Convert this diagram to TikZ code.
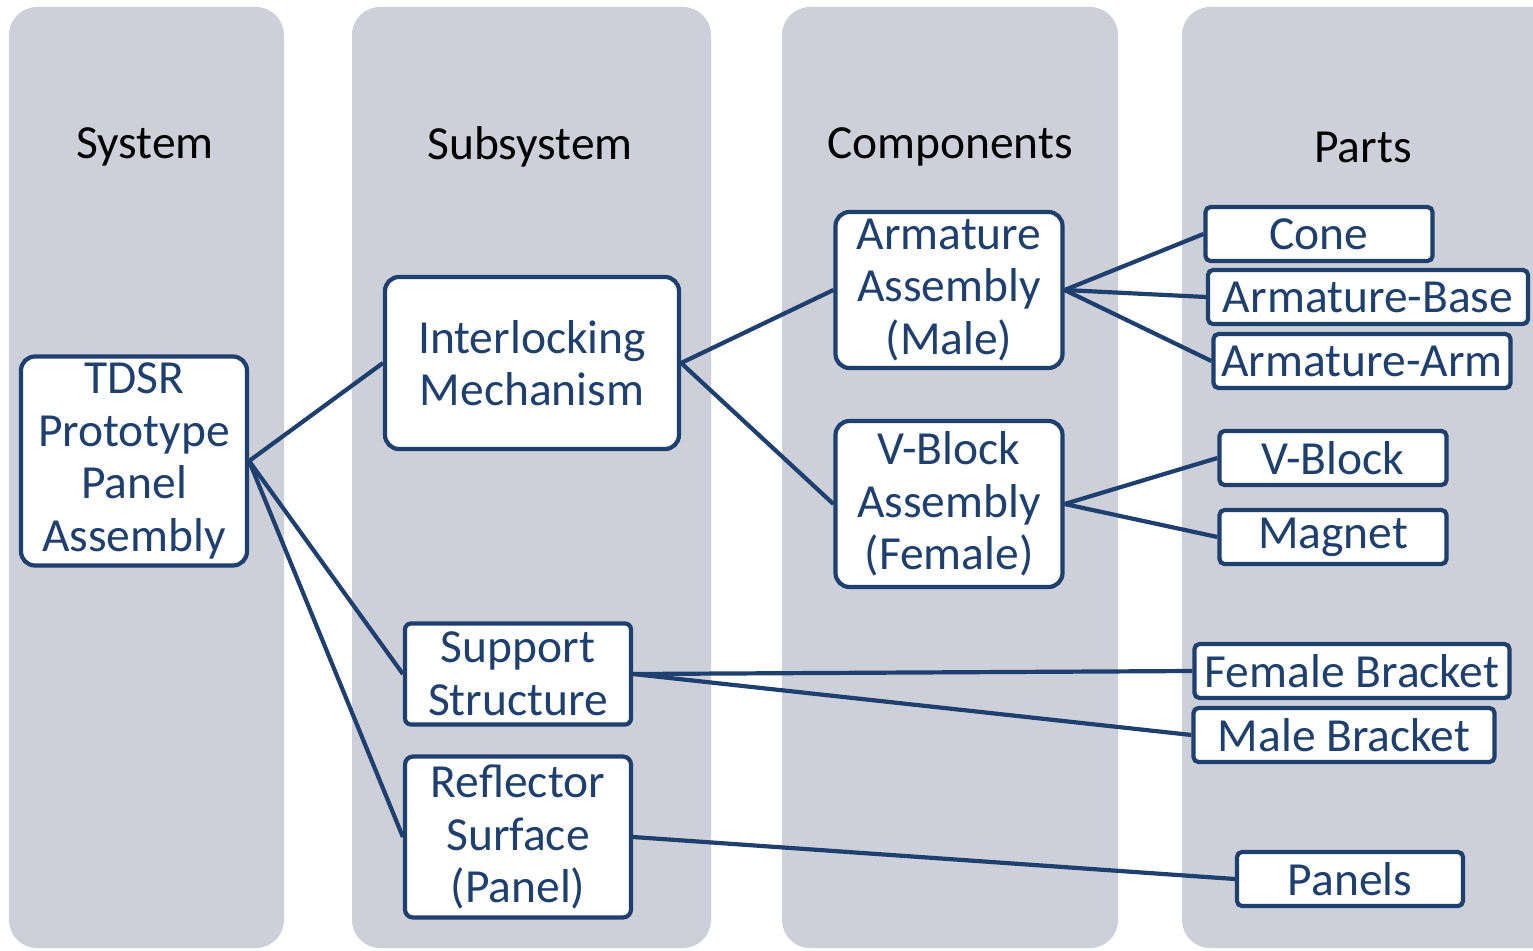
\documentclass[tikz,border=0pt]{standalone}
\usepackage{fontspec}
\setmainfont{Carlito}
\usetikzlibrary{positioning}

\definecolor{navy}{RGB}{31,63,110}
\definecolor{colgrey}{RGB}{205,208,217}

\begin{document}
\begin{tikzpicture}[
        x=1pt, y=-1pt,
        font=\fontsize{47.5}{52.5}\selectfont,
        column/.style={fill=colgrey, rounded corners=28pt},
        head/.style={text=black, anchor=center},
        bigbox/.style={rectangle, draw=navy, fill=white, line width=4.2pt, rounded corners=14pt,
            text=navy, align=center, inner sep=0pt},
        partbox/.style={rectangle, draw=navy, fill=white, line width=4.2pt, rounded corners=5pt,
            text=navy, align=center, inner sep=0pt, minimum height=54pt},
        link/.style={draw=navy, line width=4.2pt}
    ]
        \useasboundingbox (0,0) rectangle (1533,950);

        % columns
        \fill[column] (9,7) rectangle (284,948);
        \fill[column] (352,7) rectangle (711,948);
        \fill[column] (782,7) rectangle (1118,948);
        \fill[column] (1182,7) rectangle (1570,948);

        \node[head] (hsys) at (145,147) {System};
        \node[head] (hsub) at (530,147) {Subsystem};
        \node[head] (hcomp) at (950,147) {Components};
        \node[head] (hpart) at (1363,147) {Parts};

        % system
        \node[bigbox, minimum width=226pt, minimum height=209pt] (tdsr) at (134,461)
            {TDSR\\Prototype\\Panel\\Assembly};

        % subsystems
        \node[bigbox, minimum width=294pt, minimum height=172pt] (inter) at (532,363)
            {Interlocking\\Mechanism};
        \node[bigbox, rounded corners=6pt, minimum width=226pt, minimum height=101pt] (support) at (518,674)
            {Support\\Structure};
        \node[bigbox, rounded corners=8pt, minimum width=226pt, minimum height=161pt] (reflector) at (518,837)
            {Reflector\\Surface\\(Panel)};

        % components
        \node[bigbox, minimum width=227pt, minimum height=156pt] (armassy) at (949,290)
            {Armature\\Assembly\\(Male)};
        \node[bigbox, minimum width=227pt, minimum height=166pt] (vassy) at (949,504)
            {V-Block\\Assembly\\(Female)};

        % parts
        \node[partbox, minimum width=227pt] (cone) at (1319,234) {Cone};
        \node[partbox, minimum width=320pt] (base) at (1368,297) {Armature-Base};
        \node[partbox, minimum width=297pt] (arm) at (1362,361) {Armature-Arm};
        \node[partbox, minimum width=227pt] (vblock) at (1333,458) {V-Block};
        \node[partbox, minimum width=227pt] (magnet) at (1333,537) {Magnet};
        \node[partbox, minimum width=315pt] (fbracket) at (1352,671) {Female Bracket};
        \node[partbox, minimum width=301pt] (mbracket) at (1344,735) {Male Bracket};
        \node[partbox, minimum width=226pt] (panels) at (1350,879) {Panels};

        % connectors
        \draw[link] (tdsr.east) -- (inter.west);
        \draw[link] (tdsr.east) -- (support.west);
        \draw[link] (tdsr.east) -- (reflector.west);
        \draw[link] (inter.east) -- (armassy.west);
        \draw[link] (inter.east) -- (vassy.west);
        \draw[link] (armassy.east) -- (cone.west);
        \draw[link] (armassy.east) -- (base.west);
        \draw[link] (armassy.east) -- (arm.west);
        \draw[link] (vassy.east) -- (vblock.west);
        \draw[link] (vassy.east) -- (magnet.west);
        \draw[link] (support.east) -- (fbracket.west);
        \draw[link] (support.east) -- (mbracket.west);
        \draw[link] (reflector.east) -- (panels.west);
    \end{tikzpicture}
\end{document}
